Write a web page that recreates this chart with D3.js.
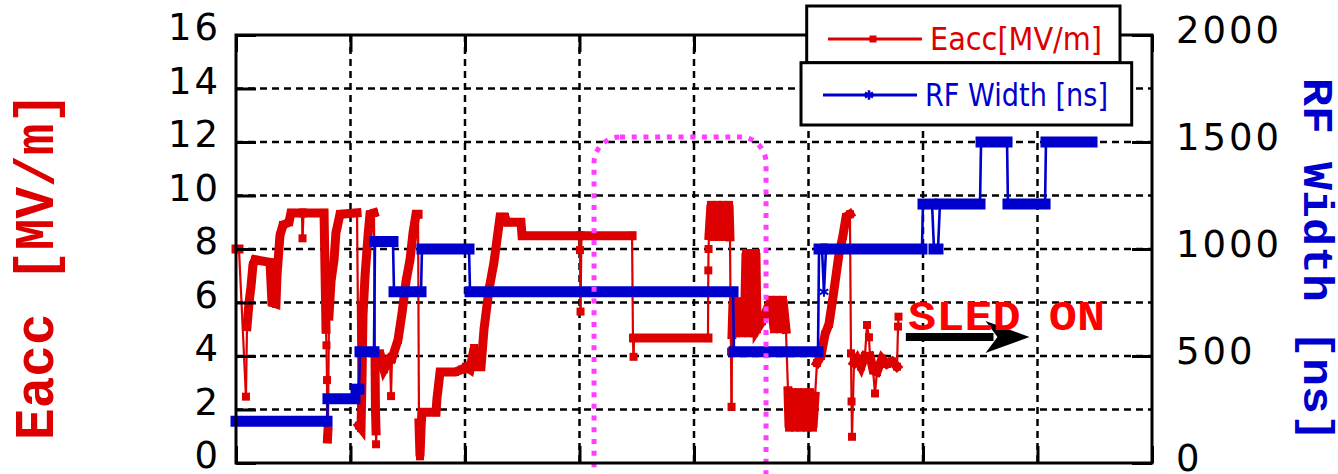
<!DOCTYPE html>
<html>
<head>
<meta charset="utf-8">
<script src="https://cdn.jsdelivr.net/npm/d3@7"></script>
<style>
  body { margin: 0; background: #fff; }
</style>
</head>
<body>
<div id="chart"></div>
<script>
// run axis (no labels in the original), gridline every 10
const runTicks = [0, 10, 20, 30, 40, 50, 60, 70, 80];
const eaccTicks = [0, 2, 4, 6, 8, 10, 12, 14, 16];
const rfTicks = [0, 500, 1000, 1500, 2000];
const seriesNames = ["Eacc[MV/m]", "RF Width [ns]"];

// Eacc [MV/m]: [run, value, dense] - dense = 1 when many shots sit on the segment ending here
const eaccPts = [
  [0.00,8.0,0],[0.26,8.0,1],[0.87,2.48,0],[0.96,5.1,0],[1.14,6.0,1],[1.31,6.6,1],[1.48,7.4,1],[1.66,7.6,1],
  [2.97,7.5,1],[3.14,6.0,1],[3.49,5.95,1],[3.58,7.0,1],[3.84,8.5,1],[4.10,8.9,1],[4.63,9.0,1],[4.80,9.35,1],
  [5.76,9.35,1],[5.81,8.4,0],[5.90,9.35,0],[7.69,9.35,1],[7.86,5.0,1],[7.90,4.4,0],[7.95,3.1,0],[7.95,1.5,0],
  [7.99,0.9,0],[8.03,1.2,1],[8.12,5.5,0],[8.30,6.8,1],[8.56,7.6,1],[8.73,8.6,1],[9.08,9.3,1],[10.57,9.35,1],
  [10.74,1.4,0],[10.92,1.3,1],[11.00,3.0,1],[11.09,5.5,1],[11.27,7.0,1],[11.53,8.5,1],[11.70,9.3,1],[12.05,9.35,1],
  [12.14,4.0,0],[12.18,2.0,1],[12.23,1.2,1],[12.23,0.7,0],[12.40,3.6,0],[12.58,4.1,1],[12.93,3.5,1],[13.45,3.9,1],
  [13.54,2.5,0],[13.62,3.9,0],[14.15,4.6,1],[14.50,5.6,1],[14.85,6.8,1],[15.20,7.6,1],[15.46,8.6,1],[15.72,9.3,1],
  [15.90,9.3,1],[15.98,1.5,0],[16.07,0.25,1],[16.16,1.3,1],[16.24,1.9,1],[17.47,1.9,1],[17.55,2.4,1],[17.82,3.4,1],
  [19.13,3.4,1],[19.74,3.5,1],[20.09,3.6,1],[20.44,3.5,1],[20.79,4.3,1],[21.05,3.6,1],[21.40,3.6,1],[21.66,5.0,1],
  [22.10,6.5,1],[22.53,7.5,1],[23.06,9.2,1],[23.49,9.2,1],[23.67,9.0,1],[24.89,9.0,1],[24.98,8.5,1],[29.96,8.5,1],
  [30.04,7.96,0],[30.09,5.66,0],[30.17,8.5,0],[34.59,8.5,1],[34.67,4.67,0],[34.72,3.97,0],[34.76,4.67,0],[41.22,4.67,1],
  [41.25,7.2,0],[41.27,8.0,0],[41.31,8.5,0],[41.48,9.65,1],[41.75,8.45,1],[42.01,9.65,1],[42.27,8.45,1],[42.53,9.65,1],
  [42.79,8.45,1],[43.06,9.65,1],[43.14,8.45,1],[43.23,4.16,0],[43.28,2.1,0],[43.32,4.8,0],[43.41,6.05,1],[43.67,4.85,1],
  [43.93,6.05,1],[44.19,4.85,1],[44.45,6.05,1],[44.54,7.85,1],[44.76,4.85,1],[44.98,7.85,1],[45.20,4.85,1],[45.41,7.85,1],
  [45.50,5.0,1],[45.94,5.3,1],
  [46.72,6.1,1],[46.99,5.0,1],[47.25,6.1,1],[47.51,5.0,1],[47.77,6.1,1],[48.03,5.0,1],[48.21,2.7,0],[48.30,1.32,1],
  [48.56,2.65,1],[48.82,1.32,1],[49.08,2.65,1],[49.34,1.32,1],[49.61,2.65,1],[49.87,1.32,1],[50.13,2.65,1],[50.39,1.32,1],
  [50.57,2.5,1],[50.74,3.74,0],[51.09,4.0,1],[51.44,4.8,1],[51.79,5.2,1],[52.14,6.2,1],[52.40,7.0,1],[52.66,7.8,1],
  [53.01,8.5,1],[53.28,9.2,1],[53.62,9.3,1],[53.71,4.1,0],[53.76,2.3,0],[53.80,0.98,0],[53.97,3.74,0],[54.24,3.9,1],
  [54.59,3.6,1],[54.93,4.0,1],[55.11,5.16,0],[55.28,4.7,0],[55.37,4.0,0],[55.63,3.5,1],[55.81,2.6,0],[55.98,3.4,0],
  [56.42,3.9,1],[56.86,3.7,1],[57.29,3.8,1],[57.73,3.6,1],[57.82,5.1,0],[57.86,5.47,0]
];

// RF width [ns]: [run, value, dense]
const rfPts = [
  [0.00,195,0],[7.95,195,1],[8.03,300,0],[10.39,300,1],[10.48,345,0],[10.74,345,1],[10.83,520,0],[12.05,520,1],
  [12.14,1035,0],[13.71,1035,1],[13.80,800,0],[16.16,800,1],[16.24,1000,0],[20.35,1000,1],[20.44,800,0],[43.41,800,1],
  [43.49,520,0],[50.83,520,1],[50.92,1000,0],[51.18,1000,1],[51.35,800,0],[51.53,1000,0],[59.91,1000,1],[60.00,1210,0],
  [60.79,1210,1],[60.96,1000,0],[61.31,1000,1],[61.48,1210,0],[64.98,1210,1],[65.07,1500,0],[67.34,1500,1],[67.42,1210,0],
  [70.66,1210,1],[70.74,1500,0],[74.76,1500,1]
];

// annotations (data units)
const focusBox = [31.27, 46.29, 12.19];   // run from, run to, top Eacc
const sledArrow = [58.5, 69.3, 4.71];     // run from, run to, Eacc
const sledLabel = [58.7, 4.97, "SLED ON"];

var margin = {top: 35, right: 186, bottom: 11, left: 236},
    width = 1338 - margin.left - margin.right,
    height = 474 - margin.top - margin.bottom;

var svg = d3.select("#chart").append("svg")
    .attr("width", 1338)
    .attr("height", 474)
    .style("font-family", "'DejaVu Sans', sans-serif");

var g = svg.append("g")
    .attr("transform", "translate(" + margin.left + "," + margin.top + ")");

var x = d3.scaleLinear().domain([0, 80]).range([0, width]);
var y = d3.scaleLinear().domain([0, 16]).range([height, 0]);
var y2 = d3.scaleLinear().domain([0, 2000]).range([height, 0]);

const RED = "#dc0000", BLUE = "#0000cc";
const TITLE_FONT = "'Liberation Mono', 'Courier New', monospace";

// grid
g.selectAll(".hgrid").data(eaccTicks.slice(1, -1)).enter().append("line")
  .attr("x1", 0).attr("x2", width)
  .attr("y1", d => y(d)).attr("y2", d => y(d))
  .attr("stroke", "#000").attr("stroke-width", 2.5).attr("stroke-dasharray", "7,5");
g.selectAll(".vgrid").data(runTicks.slice(1, -1)).enter().append("line")
  .attr("y1", 0).attr("y2", height)
  .attr("x1", d => x(d)).attr("x2", d => x(d))
  .attr("stroke", "#000").attr("stroke-width", 2.5).attr("stroke-dasharray", "7,5");

// split a series into dense runs (thick bands of shots) and single jumps
function split(pts) {
  var dense = [], thin = [], cur = null;
  for (var i = 1; i < pts.length; i++) {
    var a = pts[i - 1], b = pts[i];
    if (b[2]) {
      if (!cur) { cur = [a]; dense.push(cur); }
      cur.push(b);
    } else {
      cur = null;
      thin.push([a, b]);
    }
  }
  return {dense: dense, thin: thin};
}

function drawSeries(pts, ys, color, bandW, lineW, symbol, symSize, filled) {
  var parts = split(pts);
  var line = d3.line().x(d => x(d[0])).y(d => ys(d[1]));
  var s = g.append("g");
  s.selectAll(".thin").data(parts.thin).enter().append("path")
    .attr("d", line).attr("fill", "none")
    .attr("stroke", color).attr("stroke-width", lineW);
  s.selectAll(".band").data(parts.dense).enter().append("path")
    .attr("d", line).attr("fill", "none")
    .attr("stroke", color).attr("stroke-width", bandW)
    .attr("stroke-linecap", "square").attr("stroke-linejoin", "miter");
  s.selectAll(".pt").data(pts).enter().append("path")
    .attr("transform", d => "translate(" + x(d[0]) + "," + ys(d[1]) + ")")
    .attr("d", d3.symbol().type(symbol).size(symSize))
    .attr("fill", filled ? color : "none")
    .attr("stroke", color).attr("stroke-width", filled ? 0 : 2);
}

drawSeries(eaccPts, y, RED, 9, 2.2, d3.symbolSquare, 64, true);
drawSeries(rfPts, y2, BLUE, 11, 2.6, d3.symbolAsterisk, 70, false);

// highlighted region
g.append("rect")
  .attr("x", x(focusBox[0])).attr("y", y(focusBox[2]))
  .attr("width", x(focusBox[1]) - x(focusBox[0]))
  .attr("height", height - y(focusBox[2]) + 60)
  .attr("rx", 26).attr("ry", 26)
  .attr("fill", "none").attr("stroke", "#ff3cff")
  .attr("stroke-width", 5).attr("stroke-dasharray", "5,6.7");

// frame
g.append("rect").attr("width", width).attr("height", height)
  .attr("fill", "none").attr("stroke", "#000").attr("stroke-width", 3);

// axes with inward ticks
var left = g.append("g")
  .call(d3.axisLeft(y).tickValues(eaccTicks).tickSize(-20).tickPadding(15).tickFormat(d3.format("d")));
left.selectAll("text").attr("dy", "0.13em");
var right = g.append("g").attr("transform", "translate(" + width + ",0)")
  .call(d3.axisRight(y2).tickValues(rfTicks).tickSize(-20).tickPadding(24).tickFormat(d3.format("d")));
right.selectAll("text").attr("dy", "0.21em");
g.append("g").attr("transform", "translate(0," + height + ")")
  .call(d3.axisBottom(x).tickValues(runTicks).tickSize(-17).tickFormat(""));
g.append("g")
  .call(d3.axisTop(x).tickValues(runTicks).tickSize(-17).tickFormat(""));

g.selectAll(".domain").remove();
g.selectAll(".tick line").attr("stroke", "#000").attr("stroke-width", 3);
g.selectAll(".tick text")
  .style("font-family", "'DejaVu Sans', sans-serif")
  .style("font-size", "37px")
  .style("letter-spacing", "3px")
  .attr("fill", "#000");

// axis titles
svg.append("text")
  .attr("transform", "translate(53,266) rotate(-90)")
  .attr("text-anchor", "middle")
  .attr("textLength", 348).attr("lengthAdjust", "spacingAndGlyphs")
  .style("font-family", TITLE_FONT)
  .style("font-weight", "bold").style("font-size", "56px")
  .attr("fill", RED)
  .text("Eacc [MV/m]");
svg.append("text")
  .attr("transform", "translate(1304,260) rotate(90)")
  .attr("text-anchor", "middle")
  .attr("textLength", 364).attr("lengthAdjust", "spacingAndGlyphs")
  .style("font-family", TITLE_FONT)
  .style("font-weight", "bold").style("font-size", "43px")
  .attr("fill", BLUE)
  .text("RF Width [ns]");

// SLED ON arrow and label
var ax0 = x(sledArrow[0]), ax1 = x(sledArrow[1]), ay = y(sledArrow[2]);
g.append("rect").attr("x", ax0).attr("y", ay - 4).attr("width", ax1 - ax0 - 36).attr("height", 8).attr("fill", "#000");
g.append("path")
  .attr("d", "M" + ax1 + "," + ay + "L" + (ax1 - 44) + "," + (ay - 16) + "L" + (ax1 - 32) + "," + ay +
             "L" + (ax1 - 44) + "," + (ay + 16) + "Z")
  .attr("fill", "#000");
g.append("text")
  .attr("x", x(sledLabel[0])).attr("y", y(sledLabel[1]))
  .attr("textLength", 197).attr("lengthAdjust", "spacingAndGlyphs")
  .style("font-family", TITLE_FONT)
  .style("font-weight", "bold").style("font-size", "42px")
  .attr("fill", "#ff0000")
  .text(sledLabel[2]);

// legend (two stacked boxes)
var legend = [
  {box: [806.7, 6, 313.3, 56.7], line: [828, 922, 39], mark: 873, tx: 930, ty: 50, tl: 172,
   color: RED, sym: d3.symbolSquare, size: 49, filled: true},
  {box: [801, 62.7, 330.7, 62.3], line: [823, 917, 95], mark: 869, tx: 925, ty: 106, tl: 183,
   color: BLUE, sym: d3.symbolAsterisk, size: 60, filled: false}
];
legend.forEach(function(L, i) {
  svg.append("rect")
    .attr("x", L.box[0]).attr("y", L.box[1]).attr("width", L.box[2]).attr("height", L.box[3])
    .attr("fill", "#fff").attr("stroke", "#000").attr("stroke-width", 3);
  svg.append("line")
    .attr("x1", L.line[0]).attr("x2", L.line[1]).attr("y1", L.line[2]).attr("y2", L.line[2])
    .attr("stroke", L.color).attr("stroke-width", 3);
  svg.append("path")
    .attr("transform", "translate(" + L.mark + "," + L.line[2] + ")")
    .attr("d", d3.symbol().type(L.sym).size(L.size))
    .attr("fill", L.filled ? L.color : "none")
    .attr("stroke", L.color).attr("stroke-width", L.filled ? 0 : 2.5);
  svg.append("text")
    .attr("x", L.tx).attr("y", L.ty)
    .attr("textLength", L.tl).attr("lengthAdjust", "spacingAndGlyphs")
    .style("font-family", "'DejaVu Sans Condensed', 'DejaVu Sans', sans-serif")
    .style("font-size", "32px")
    .attr("fill", L.color)
    .text(seriesNames[i]);
});
</script>
</body>
</html>
